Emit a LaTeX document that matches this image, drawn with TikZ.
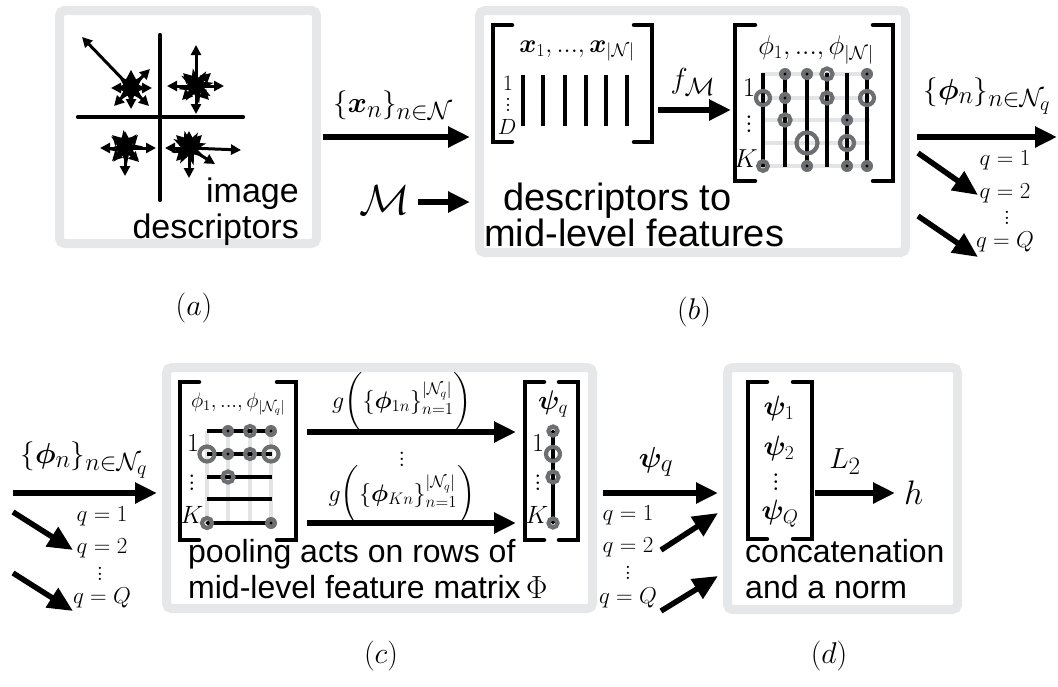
\RequirePackage{fix-cm}
\documentclass[tikz,border=0pt]{standalone}
\usepackage{amsmath}
\usepackage{bm}
\usepackage{fontspec}
\setmainfont{Liberation Sans}
\usetikzlibrary{arrows.meta,shapes.geometric}
\DeclareMathSizes{29}{29}{25}{20}
\definecolor{boxgray}{HTML}{E6E7E8}
\definecolor{ringgray}{HTML}{6D6E71}
\definecolor{gridgray}{HTML}{E3E4E5}
\newcommand\myvd{\vbox{\baselineskip=0.25em\lineskiplimit=0pt\hbox{$.$}\hbox{$.$}\hbox{$.$}}}
\newcommand\mydot[1]{\fill[ringgray] #1 circle[radius=6pt]; \fill[black] #1 circle[radius=1.6pt];}
\newcommand\myring[2]{\draw[ringst] #1 circle[radius=#2pt];}
\newcommand\myringd[2]{\draw[ringst] #1 circle[radius=#2pt]; \fill[black] #1 circle[radius=1.6pt];}
\tikzset{
  frm/.style={draw=boxgray, line width=9pt, rounded corners=5pt, inner sep=0pt},
  bigarr/.style={line width=5.5pt, -{Triangle[length=22pt,width=20pt]}},
  diagarr/.style={line width=5.5pt, -{Triangle[length=25pt,width=22pt]}},
  sarr/.style={line width=3pt, -{Triangle[length=10pt,width=10pt]}},
  brk/.style={line width=4.5pt, line cap=round},
  blk/.style={line width=4.2pt},
  grd/.style={gridgray, line width=4pt},
  ringst/.style={ringgray, line width=4.2pt},
  txt/.style={inner sep=0pt, font=\fontsize{#1}{#1}\selectfont},
  txt/.default=32,
  mth/.style={inner sep=0pt, font=\fontsize{#1}{#1}\selectfont},
  mth/.default=29,
  strs/.style={star, star points=8, star point ratio=2.2, fill=black, inner sep=0pt, minimum size=36pt},
}
\begin{document}
\begin{tikzpicture}[x=1pt,y=-1pt]
\useasboundingbox (0,0) rectangle (1058,686);
% ---------- frames
\node[frm, minimum width=257pt, minimum height=233pt] (boxa) at (188,127) {};
\node[frm, minimum width=426pt, minimum height=242pt] (boxb) at (692.5,131.5) {};
\node[frm, minimum width=426pt, minimum height=241pt] (boxc) at (379.5,488) {};
\node[frm, minimum width=230pt, minimum height=242pt] (boxd) at (842.5,488.5) {};
% ---------- box a
\draw[blk, line cap=round] (160,35) -- (160,200);
\draw[blk, line cap=round] (78,117) -- (243,117);
\node[strs] (s1) at (131,88) {};
\foreach \dx/\dy in {-49/-51, 19/-19, 21/0, 18/18, 0/21, -17/18, -20/0, 0/-18}
  \draw[sarr] (s1.center) -- ++(\dx,\dy);
\node[strs, rotate=10] (s2) at (196,86) {};
\foreach \dx/\dy in {0/-41, 0/28, -29/0, 28/0, 15/-13, -14/14, 13/14, -13/-13}
  \draw[sarr] (s2.center) -- ++(\dx,\dy);
\node[strs, rotate=5] (s3) at (125,148) {};
\foreach \dx/\dy in {-25/0, 31/0, 0/28, 0/-17, 13/-13, 14/14, -13/13, -13/-13}
  \draw[sarr] (s3.center) -- ++(\dx,\dy);
\node[strs, rotate=15] (s4) at (189,148) {};
\foreach \dx/\dy in {-24/0, 52/2, 0/30, 26/16, 0/-17, 13/-13, -13/-13, -13/13}
  \draw[sarr] (s4.center) -- ++(\dx,\dy);
\node[txt=34, anchor=base east] (ta1) at (299,202) {image};
\node[txt=34, anchor=base east] (ta2) at (299,238) {descriptors};
% ---------- box b, left matrix
\draw[brk] (512,25) -- (493,25) -- (493,142) -- (512,142);
\draw[brk] (634,25) -- (652,25) -- (652,142) -- (634,142);
\node[mth=26] (hx) at (577,51) {$\bm{x}_1, ..., \bm{x}_{|\mathcal{N}|}$};
\foreach \x in {523,543,565,586,606,627} \draw[blk] (\x,75) -- (\x,126);
\node[mth=22] (r1b) at (508,83) {$1$};
\node[mth=22] (rvb) at (508,105) {\myvd};
\node[mth=22] (rDb) at (507,127) {$D$};
% ---------- box b, phi matrix
\draw[brk] (755,25) -- (735,25) -- (735,181) -- (755,181);
\draw[brk] (873,25) -- (893,25) -- (893,181) -- (873,181);
\node[mth=27] (hphi) at (816,50) {$\phi_1, ..., \phi_{|\mathcal{N}|}$};
\foreach \y in {74,98,120,143,166} \draw[grd] (762,\y) -- (870,\y);
\foreach \x in {763,785,807,827,847,867} \draw[blk] (\x,73) -- (\x,167);
\myring{(763,98)}{7}
\myringd{(763,166)}{4.8}
\mydot{(785,74)} \mydot{(785,98)}
\myring{(785,120)}{5.5}
\mydot{(807,74)}
\myring{(807,143)}{10.5}
\mydot{(807,166)}
\myringd{(827,74)}{5.5}
\myring{(827,98)}{5.5}
\mydot{(847,120)}
\myring{(847,143)}{7}
\mydot{(847,166)}
\mydot{(867,74)}
\myring{(867,98)}{7}
\mydot{(867,166)}
\node[mth=27] (r1p) at (749,88) {$1$};
\node[mth=27] (rvp) at (749,124) {\myvd};
\node[mth=26] (rKp) at (746,159) {$K$};
\node[txt=38, anchor=base west] (tb1) at (503,210) {descriptors to};
\node[txt=38, anchor=base west] (tb2) at (484,246) {mid-level features};
% ---------- row 1 arrows
\coordinate (xs) at (323,137); \coordinate (xe) at (470,137);
\draw[bigarr] (xs) -- (xe);
\node[mth=29] (lx) at (393,106) {$\{\bm{x}_n\}_{n\in\mathcal{N}}$};
\node[mth=42] (lM) at (385,200) {$\mathcal{M}$};
\coordinate (ms) at (418,202); \coordinate (me) at (470,202);
\draw[bigarr] (ms) -- (me);
\coordinate (fs) at (658,110); \coordinate (fe) at (731,110);
\draw[bigarr] (fs) -- (fe);
\node[mth=29] (lf) at (693,82) {$f_{\mathcal{M}}$};
\coordinate (ps) at (917,137); \coordinate (pe) at (1057,137);
\draw[bigarr] (ps) -- (pe);
\node[mth=29] (lphi) at (987,96) {$\{\bm{\phi}_n\}_{n\in\mathcal{N}_q}$};
\node[mth=23] (q1a) at (1005,160) {$q=1$};
\node[mth=23] (q2a) at (1005,193) {$q=2$};
\node[mth=23] (qva) at (1007,218) {\myvd};
\node[mth=23] (qQa) at (1005,242) {$q=Q$};
\coordinate (d2s) at (918,153); \coordinate (d2e) at (978,195);
\draw[diagarr] (d2s) -- (d2e);
\coordinate (d3s) at (918,216); \coordinate (d3e) at (978,257);
\draw[diagarr] (d3s) -- (d3e);
\node[mth=30] (cap a) at (194,308) {$(a)$};
\node[mth=30] (cap b) at (694,312) {$(b)$};
% ---------- row 2 incoming
\coordinate (cs) at (13,493); \coordinate (ce) at (157,493);
\draw[bigarr] (cs) -- (ce);
\node[mth=29] (lphi2) at (84,460) {$\{\bm{\phi}_n\}_{n\in\mathcal{N}_q}$};
\node[mth=23] (q1c) at (102,516) {$q=1$};
\node[mth=23] (q2c) at (102,548) {$q=2$};
\node[mth=23] (qvc) at (100,574) {\myvd};
\node[mth=23] (qQc) at (102,598) {$q=Q$};
\coordinate (c2s) at (13,512); \coordinate (c2e) at (73,550);
\draw[diagarr] (c2s) -- (c2e);
\coordinate (c3s) at (13,573); \coordinate (c3e) at (73,611);
\draw[diagarr] (c3s) -- (c3e);
% ---------- box c, phi matrix
\draw[brk] (199,382) -- (180,382) -- (180,540) -- (199,540);
\draw[brk] (277,382) -- (296,382) -- (296,540) -- (277,540);
\node[mth=21] (hphic) at (238,404) {$\phi_1, ..., \phi_{|\mathcal{N}_q|}$};
\foreach \x in {207,228,250,271} \draw[grd] (\x,431) -- (\x,523);
\foreach \y in {431,454,477,499,523} \draw[blk] (207,\y) -- (272,\y);
\mydot{(228,431)}
\myring{(250,431)}{5}
\mydot{(271,431)}
\myring{(207,454)}{7.5}
\mydot{(228,454)}
\myring{(250,454)}{5}
\myring{(271,454)}{7.5}
\myring{(228,477)}{5.5}
\myringd{(207,523)}{5}
\mydot{(271,523)}
\node[mth=26] (r1c) at (193,443) {$1$};
\node[mth=26] (rvc) at (192,483) {\myvd};
\node[mth=25] (rKc) at (192,515) {$K$};
% g arrows
\coordinate (g1s) at (307,432); \coordinate (g1e) at (516,432);
\draw[bigarr] (g1s) -- (g1e);
\coordinate (g2s) at (307,523); \coordinate (g2e) at (516,523);
\draw[bigarr] (g2s) -- (g2e);
\node[mth=24] (lg1) at (402,402) {$g\bigg(\{\bm{\phi}_{1n}\}_{n=1}^{|\mathcal{N}_q|}\bigg)$};
\node[mth=24] (lgv) at (402,459) {\myvd};
\node[mth=24] (lg2) at (402,495) {$g\bigg(\{\bm{\phi}_{Kn}\}_{n=1}^{|\mathcal{N}_q|}\bigg)$};
% psi_q matrix
\draw[brk] (544,382) -- (525,382) -- (525,540) -- (544,540);
\draw[brk] (559,382) -- (578,382) -- (578,540) -- (559,540);
\node[mth=27] (hpsi) at (553,404) {$\bm{\psi}_q$};
\draw[blk] (553,431) -- (553,523);
\myringd{(553,431)}{4.5}
\myring{(553,454)}{7}
\myring{(553,477)}{5.5}
\myringd{(553,523)}{4.5}
\node[mth=26] (r1q) at (538,443) {$1$};
\node[mth=26] (rvq) at (538,483) {\myvd};
\node[mth=25] (rKq) at (537,515) {$K$};
\node[txt=32, anchor=base west] (tc1) at (188,562) {pooling acts on rows of};
\node[txt=32, anchor=base west] (tc2) at (188,598) {mid-level feature matrix\,$\Phi$};
% ---------- between c and d
\coordinate (ys) at (603,493); \coordinate (ye) at (718,493);
\draw[bigarr] (ys) -- (ye);
\node[mth=29] (lpsi) at (656,462) {$\bm{\psi}_q$};
\node[mth=23] (q1d) at (628,515) {$q=1$};
\node[mth=23] (q2d) at (628,547) {$q=2$};
\node[mth=23] (qvd) at (628,573) {\myvd};
\node[mth=23] (qQd) at (628,598) {$q=Q$};
\coordinate (y2s) at (661,550); \coordinate (y2e) at (718,513);
\draw[diagarr] (y2s) -- (y2e);
\coordinate (y3s) at (661,611); \coordinate (y3e) at (718,576);
\draw[diagarr] (y3s) -- (y3e);
% ---------- box d
\draw[brk] (767,382) -- (748,382) -- (748,539) -- (767,539);
\draw[brk] (793,382) -- (812,382) -- (812,539) -- (793,539);
\node[mth=28] (e1) at (779,408) {$\bm{\psi}_1$};
\node[mth=28] (e2) at (779,448) {$\bm{\psi}_2$};
\node[mth=28] (ev) at (776,482) {\myvd};
\node[mth=28] (eQ) at (780,514) {$\bm{\psi}_Q$};
\coordinate (ls) at (815,493); \coordinate (le) at (895,493);
\draw[bigarr] (ls) -- (le);
\node[mth=29] (lL) at (845,462) {$L_2$};
\node[mth=34, anchor=west] (lh) at (904,493) {$h$};
\node[txt=32, anchor=base west] (td1) at (745,562) {concatenation};
\node[txt=32, anchor=base west] (td2) at (745,598) {and a norm};
\node[mth=30] (cap c) at (381,656) {$(c)$};
\node[mth=30] (cap d) at (829,656) {$(d)$};
\end{tikzpicture}
\end{document}
